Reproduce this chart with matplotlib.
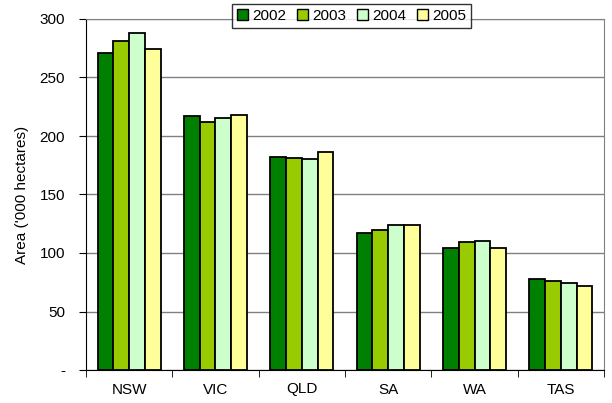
import matplotlib
matplotlib.use("Agg")
import matplotlib.pyplot as plt
import numpy as np

plt.rcParams['font.family'] = ['Liberation Sans', 'DejaVu Sans']

states = ["NSW", "VIC", "QLD", "SA", "WA", "TAS"]
years = ["2002", "2003", "2004", "2005"]
v2002 = [271, 217, 182, 117, 104, 78]
v2003 = [281, 212, 181, 120, 109, 76]
v2004 = [288, 215, 180, 124, 110, 74]
v2005 = [274, 218, 186, 124, 104, 72]
series = [v2002, v2003, v2004, v2005]
colors = ["#008000", "#99CC00", "#CCFFCC", "#FFFF99"]
yticks = [0, 50, 100, 150, 200, 250, 300]
ytick_labels = ["-", "50", "100", "150", "200", "250", "300"]

fig = plt.figure(figsize=(6.12, 4.03), dpi=100)
ax = fig.add_axes([86/612, 1-370/403, 518/612, 351/403])

x = np.arange(len(states))
w = 0.183
for i, (vals, c, yr) in enumerate(zip(series, colors, years)):
    ax.bar(x + (i - 1.5) * w, vals, w, color=c, edgecolor="black",
           linewidth=1.3, label=yr, zorder=3)

ax.set_xlim(-0.5, len(states) - 0.5)
ax.set_ylim(0, 300)
ax.set_yticks(yticks)
ax.set_yticklabels(ytick_labels, fontsize=11)
ax.yaxis.grid(True, color="#808080", linewidth=1.0, zorder=0)
ax.set_axisbelow(True)

ax.set_xticks(x)
ax.set_xticklabels(states, fontsize=11)
ax.tick_params(axis="x", length=0, pad=9)
ax.set_xticks(np.arange(-0.5, len(states) + 0.5, 1), minor=True)
ax.tick_params(axis="x", which="minor", length=5, direction="out", color="black")
ax.tick_params(axis="y", length=5, direction="out", color="black", pad=10)

ax.spines["left"].set_color("black")
ax.spines["bottom"].set_color("black")
ax.spines["top"].set_color("#808080")
ax.spines["right"].set_color("#808080")

ax.set_ylabel("Area ('000 hectares)", fontsize=11, labelpad=8)

leg = ax.legend(loc="lower center", bbox_to_anchor=(0.513, 0.975), ncol=4,
                fontsize=11, frameon=True, fancybox=False, edgecolor="black",
                handlelength=0.7, handleheight=0.7, handletextpad=0.3,
                columnspacing=0.7, borderpad=0.32, borderaxespad=0)
leg.get_frame().set_linewidth(1.0)
for h in leg.legend_handles:
    h.set_linewidth(1.0)

fig.savefig("out.png", dpi=100, facecolor="white")
